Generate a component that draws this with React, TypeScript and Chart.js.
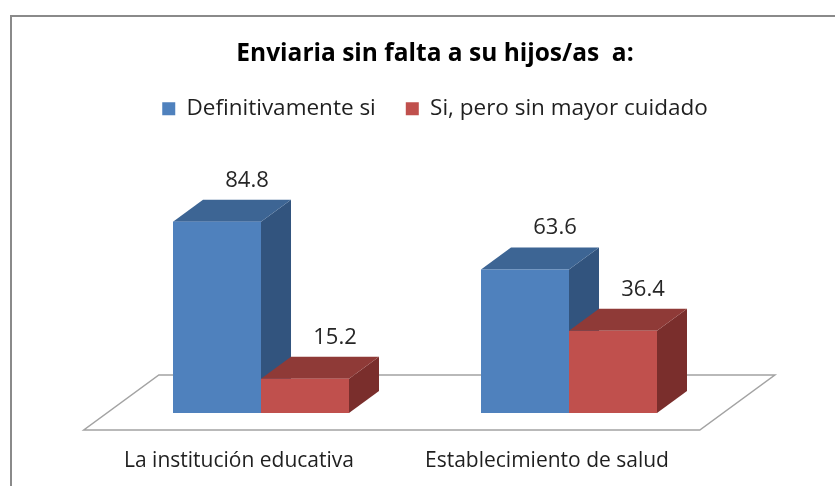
import React, { useEffect, useRef } from 'react';
import { Chart, registerables } from 'chart.js';

Chart.register(...registerables);

// ---- data ----
const TITLE = 'Enviaria sin falta a su hijos/as  a:';
const CATEGORIES = ['La institución educativa', 'Establecimiento de salud'];
const SERIES_NAMES = ['Definitivamente si', 'Si, pero sin mayor cuidado'];
const DEFINITIVAMENTE_SI = [84.8, 63.6];
const SIN_MAYOR_CUIDADO = [15.2, 36.4];

// ---- styles ----
const FRONT = ['#4f81bd', '#c0504d'];
const TOP = ['#3d6594', '#8f3a37'];
const SIDE = ['#32547e', '#7a2e2c'];
const FONT = "'Open Sans', 'DejaVu Sans', sans-serif";
const TEXT = '#1f1f1f';

const DEPTH_X = 1.364; // horizontal shift per px of depth
const BAR_DEPTH = 22;
const FLOOR_FRONT = 17;
const FLOOR_BACK = 38;

const bar3dPlugin = {
  id: 'bar3d',
  beforeDraw(chart: any) {
    const { ctx } = chart;
    ctx.save();
    ctx.strokeStyle = '#8a8a8a';
    ctx.lineWidth = 2;
    ctx.beginPath();
    ctx.moveTo(11, chart.height);
    ctx.lineTo(11, 16);
    ctx.lineTo(chart.width, 16);
    ctx.stroke();
    ctx.restore();
  },
  beforeDatasetsDraw(chart: any) {
    const { ctx, chartArea } = chart;
    const yScale = chart.scales.y;
    const base = yScale.getPixelForValue(0);
    const P = (x: number, t: number, y: number) => [x + t * DEPTH_X, y - t];

    ctx.save();
    // floor
    const f1 = P(chartArea.left, -FLOOR_FRONT, base);
    const f2 = P(chartArea.right, -FLOOR_FRONT, base);
    const f3 = P(chartArea.right, FLOOR_BACK, base);
    const f4 = P(chartArea.left, FLOOR_BACK, base);
    ctx.beginPath();
    ctx.moveTo(f1[0], f1[1]);
    ctx.lineTo(f2[0], f2[1]);
    ctx.lineTo(f3[0], f3[1]);
    ctx.lineTo(f4[0], f4[1]);
    ctx.closePath();
    ctx.fillStyle = '#ffffff';
    ctx.fill();
    ctx.strokeStyle = '#a3a3a3';
    ctx.lineWidth = 1.5;
    ctx.stroke();

    const nCat = chart.data.labels.length;
    const nDs = chart.data.datasets.length;
    const labels: any[] = [];
    for (let j = 0; j < nCat; j++) {
      for (let i = 0; i < nDs; i++) {
        const meta = chart.getDatasetMeta(i);
        const el = meta.data[j];
        if (!el) continue;
        const { x, y, base: b, width } = el.getProps(['x', 'y', 'base', 'width'], true);
        const xl = x - width / 2;
        const xr = x + width / 2;
        const dx = BAR_DEPTH * DEPTH_X;
        const dy = BAR_DEPTH;
        // side
        ctx.fillStyle = SIDE[i];
        ctx.beginPath();
        ctx.moveTo(xr, y);
        ctx.lineTo(xr + dx, y - dy);
        ctx.lineTo(xr + dx, b - dy);
        ctx.lineTo(xr, b);
        ctx.closePath();
        ctx.fill();
        // top
        ctx.fillStyle = TOP[i];
        ctx.beginPath();
        ctx.moveTo(xl, y);
        ctx.lineTo(xr, y);
        ctx.lineTo(xr + dx, y - dy);
        ctx.lineTo(xl + dx, y - dy);
        ctx.closePath();
        ctx.fill();
        // front
        ctx.fillStyle = FRONT[i];
        ctx.fillRect(xl, y, width, b - y);
        const v = chart.data.datasets[i].data[j];
        labels.push({ text: String(v), x: x + dx, y: y - dy - 13 });
      }
    }
    ctx.fillStyle = '#262626';
    ctx.font = `22px ${FONT}`;
    ctx.textAlign = 'center';
    ctx.textBaseline = 'alphabetic';
    for (const l of labels) ctx.fillText(l.text, l.x, l.y);
    ctx.restore();
    return false;
  },
};

export default function App() {
  const ref = useRef<HTMLCanvasElement | null>(null);
  useEffect(() => {
    if (!ref.current) return;
    const chart = new Chart(ref.current, {
      type: 'bar',
      data: {
        labels: CATEGORIES,
        datasets: [
          { label: SERIES_NAMES[0], data: DEFINITIVAMENTE_SI, backgroundColor: FRONT[0] },
          { label: SERIES_NAMES[1], data: SIN_MAYOR_CUIDADO, backgroundColor: FRONT[1] },
        ],
      },
      options: {
        responsive: false,
        animation: false,
        layout: { padding: { left: 107, right: 72, top: 0, bottom: 12.8 } },
        datasets: { bar: { categoryPercentage: 0.5714, barPercentage: 1 } } as any,
        plugins: {
          title: {
            display: true,
            text: TITLE,
            color: '#000000',
            font: { family: FONT, size: 24.5, weight: 'bold', lineHeight: 0.8 },
            padding: { top: 44.5, bottom: 3.4 },
          },
          legend: {
            position: 'top',
            labels: {
              boxWidth: 13,
              boxHeight: 13,
              padding: 30,
              color: TEXT,
              font: { family: FONT, size: 22.5 },
            },
          },
          tooltip: { enabled: false },
        },
        scales: {
          x: {
            grid: { display: false, drawTicks: false },
            border: { display: false },
            ticks: {
              color: TEXT,
              font: { family: FONT, size: 21 },
              padding: 35,
              labelOffset: -22,
              maxRotation: 0,
              autoSkip: false,
            },
            afterFit: (s: any) => {
              s.height = 60.2;
            },
          },
          y: {
            position: 'right',
            min: 0,
            max: 125.4,
            grid: { display: false },
            border: { display: false },
            ticks: { display: false },
            afterFit: (s: any) => {
              s.width = 40;
            },
          },
        },
      },
      plugins: [bar3dPlugin],
    });
    return () => chart.destroy();
  }, []);
  return (
    <div style={{ position: 'absolute', left: 0, top: 0, width: 835, height: 486, background: '#fff' }}>
      <canvas ref={ref} width={835} height={486} style={{ display: 'block' }} />
    </div>
  );
}
